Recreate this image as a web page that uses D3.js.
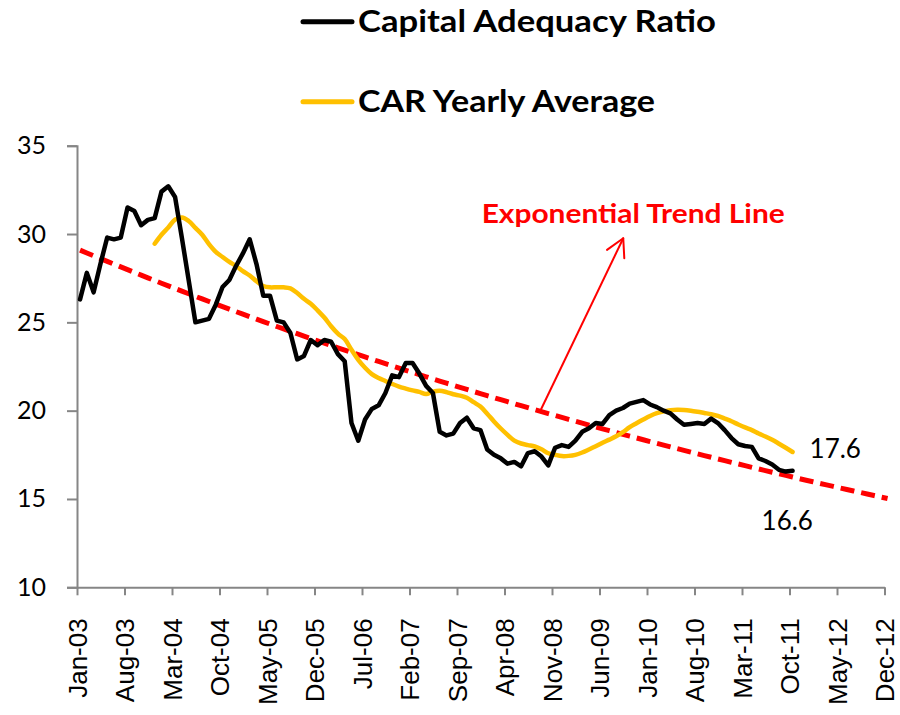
<!DOCTYPE html>
<html><head><meta charset="utf-8">
<script src="https://cdn.jsdelivr.net/npm/d3@7"></script>
<style>body{margin:0;background:#fff}svg{display:block}</style>
</head><body>
<svg id="chart" width="900" height="715"></svg>
<script>
// Monthly Capital Adequacy Ratio, Jan-03 (index 0) .. Oct-11 (index 105)
const carValues = [
 26.3,27.8,26.7,28.3,29.8,29.7,29.8,31.5,31.3,30.5,30.8,30.9,
 32.4,32.7,32.1,29.8,27.4,25.0,25.1,25.2,26.0,27.0,27.4,28.2,
 28.9,29.7,28.3,26.5,26.5,25.1,25.0,24.4,22.9,23.1,24.0,23.7,
 24.0,23.9,23.2,22.8,19.3,18.3,19.5,20.1,20.3,21.0,22.0,21.9,
 22.7,22.7,22.1,21.4,21.0,18.8,18.6,18.7,19.3,19.6,19.0,18.9,
 17.8,17.5,17.3,17.0,17.1,16.85,17.6,17.7,17.4,16.9,17.9,18.05,
 17.95,18.3,18.8,19.0,19.3,19.25,19.75,20.0,20.15,20.4,20.5,20.6,
 20.35,20.2,20.0,19.85,19.5,19.2,19.25,19.3,19.25,19.55,19.3,18.9,
 18.45,18.1,18.0,17.95,17.3,17.15,16.95,16.65,16.55,16.6
];
// CAR yearly average, Dec-03 (index 11) .. Oct-11 (index 105)
const avgStartIndex = 11;
const avgValues = [
 29.45,29.96,30.37,30.82,30.94,30.74,30.35,29.96,29.43,28.99,28.70,28.42,
 28.19,27.90,27.65,27.33,27.06,26.98,26.99,26.98,26.92,26.66,26.33,26.05,
 25.68,25.27,24.78,24.36,24.05,23.45,22.88,22.43,22.07,21.85,21.68,21.51,
 21.36,21.25,21.15,21.06,20.94,21.08,21.13,21.05,20.93,20.85,20.73,20.48,
 20.23,19.83,19.39,18.99,18.63,18.30,18.14,18.05,17.97,17.81,17.59,17.50,
 17.43,17.44,17.50,17.63,17.80,17.98,18.18,18.36,18.55,18.78,19.07,19.29,
 19.50,19.70,19.86,19.96,20.03,20.05,20.04,20.00,19.94,19.87,19.80,19.70,
 19.55,19.40,19.22,19.05,18.90,18.71,18.54,18.35,18.13,17.90,17.66
];
const tickMonths = [0,7,14,21,28,35,42,49,56,63,70,77,84,91,98,105,112,119];
const tickLabels = ["Jan-03","Aug-03","Mar-04","Oct-04","May-05","Dec-05","Jul-06","Feb-07","Sep-07",
  "Apr-08","Nov-08","Jun-09","Jan-10","Aug-10","Mar-11","Oct-11","May-12","Dec-12"];
const yTickValues = [10,15,20,25,30,35];
const seriesNames = ["Capital Adequacy Ratio","CAR Yearly Average"];
const annotationText = "Exponential Trend Line";
const lastCarLabel = "16.6";
const lastAvgLabel = "17.6";

const svg = d3.select("#chart");
const x = d3.scaleLinear().domain([0,119]).range([77,884.5]);
const y = d3.scaleLinear().domain([10,35]).range([587.3,145.7]);
const pointShift = 0.45; // points sit slightly right of the month tick (date axis)
const px = m => x(m + pointShift);
const axisColor = "#868686";

// Y axis
const yAxis = d3.axisLeft(y).tickValues(yTickValues).tickSize(10).tickPadding(21).tickFormat(d3.format("d"));
const gy = svg.append("g").attr("transform","translate(77,0)").call(yAxis);
gy.select(".domain").attr("stroke",axisColor).attr("stroke-width",2);
gy.selectAll(".tick line").attr("stroke",axisColor).attr("stroke-width",2);
gy.selectAll(".tick text").attr("font-family","Lato, 'Open Sans', sans-serif").attr("font-size",25).attr("fill","#000");

// X axis
const xAxis = d3.axisBottom(x).tickValues(tickMonths).tickSize(8).tickSizeOuter(0)
  .tickFormat((d,i)=>tickLabels[i]);
const gx = svg.append("g").attr("transform","translate(0,587.3)").call(xAxis);
gx.select(".domain").attr("stroke",axisColor).attr("stroke-width",2);
gx.selectAll(".tick line").attr("stroke",axisColor).attr("stroke-width",2);
gx.selectAll(".tick text")
  .attr("font-family","'Liberation Sans', Arial, sans-serif").attr("font-size",26).attr("fill","#000")
  .attr("text-anchor","end").attr("transform","translate(0,31) rotate(-90)")
  .attr("x",0).attr("y",0).attr("dy","0.36em").attr("dx",0);

// Trend line: exponential least-squares fit of the CAR series
const mx = d3.mean(carValues,(d,i)=>i);
const my = d3.mean(carValues,d=>Math.log(d));
let sxy=0,sxx=0;
carValues.forEach((d,i)=>{sxy+=(i-mx)*(Math.log(d)-my); sxx+=(i-mx)*(i-mx);});
const b = sxy/sxx, lnA = my - b*mx;
const trend = m => Math.exp(lnA + b*m);
const trendPts = d3.range(0,120).map(m=>[m,trend(m)]);
const lineGen = d3.line().x(d=>px(d[0])).y(d=>y(d[1]));
svg.append("path").attr("d",lineGen(trendPts)).attr("fill","none")
  .attr("stroke","#FF0000").attr("stroke-width",5).attr("stroke-dasharray","14,7");

// Yearly average
const avgPts = avgValues.map((v,i)=>[i+avgStartIndex,v]);
svg.append("path").attr("d",d3.line().x(d=>px(d[0])).y(d=>y(d[1])).curve(d3.curveCatmullRom.alpha(0.5))(avgPts))
  .attr("fill","none").attr("stroke","#FFC000").attr("stroke-width",4.5).attr("stroke-linecap","round").attr("stroke-linejoin","round");

// CAR
const carPts = carValues.map((v,i)=>[i,v]);
svg.append("path").attr("d",lineGen(carPts)).attr("fill","none")
  .attr("stroke","#000").attr("stroke-width",4.5).attr("stroke-linecap","round").attr("stroke-linejoin","round");

// End labels
const lbl = {"font-family":"Lato, 'Open Sans', sans-serif","font-size":26,"fill":"#000"};
const t1 = svg.append("text").attr("x",px(105)+17).attr("y",y(avgValues[avgValues.length-1])+6).text(lastAvgLabel);
const t2 = svg.append("text").attr("x",px(105)-31).attr("y",530).text(lastCarLabel);
[t1,t2].forEach(t=>Object.entries(lbl).forEach(([k,v])=>t.attr(k,v)));

// Annotation
svg.append("text").attr("x",481.7).attr("y",223.3).attr("font-family","Lato, 'Open Sans', sans-serif")
  .attr("font-weight","bold").attr("font-size",27).attr("fill","#FF0000")
  .attr("textLength",303).attr("lengthAdjust","spacingAndGlyphs").text(annotationText);
const aStart = [px(67.8), y(trend(67.8))];
const aEnd = [x(80.5), y(29.76)];
svg.append("line").attr("x1",aStart[0]).attr("y1",aStart[1]).attr("x2",aEnd[0]).attr("y2",aEnd[1])
  .attr("stroke","#FF0000").attr("stroke-width",2);
const ang = Math.atan2(aStart[1]-aEnd[1], aStart[0]-aEnd[0]);
[-0.5,0.5].forEach(o=>{
  svg.append("line").attr("x1",aEnd[0]).attr("y1",aEnd[1])
    .attr("x2",aEnd[0]+20*Math.cos(ang+o)).attr("y2",aEnd[1]+20*Math.sin(ang+o))
    .attr("stroke","#FF0000").attr("stroke-width",2).attr("stroke-linecap","round");
});

// Legend
const legend = [
  {name:seriesNames[0], color:"#000", y:21.7, w:358},
  {name:seriesNames[1], color:"#FFC000", y:101.7, w:297}
];
legend.forEach(l=>{
  svg.append("line").attr("x1",303).attr("x2",352).attr("y1",l.y).attr("y2",l.y)
    .attr("stroke",l.color).attr("stroke-width",5).attr("stroke-linecap","round");
  svg.append("text").attr("x",358).attr("y",l.y+10).attr("font-family","Lato, 'Open Sans', sans-serif")
    .attr("font-weight","bold").attr("font-size",30).attr("fill","#000")
    .attr("textLength",l.w).attr("lengthAdjust","spacingAndGlyphs").text(l.name);
});
</script>
</body></html>
